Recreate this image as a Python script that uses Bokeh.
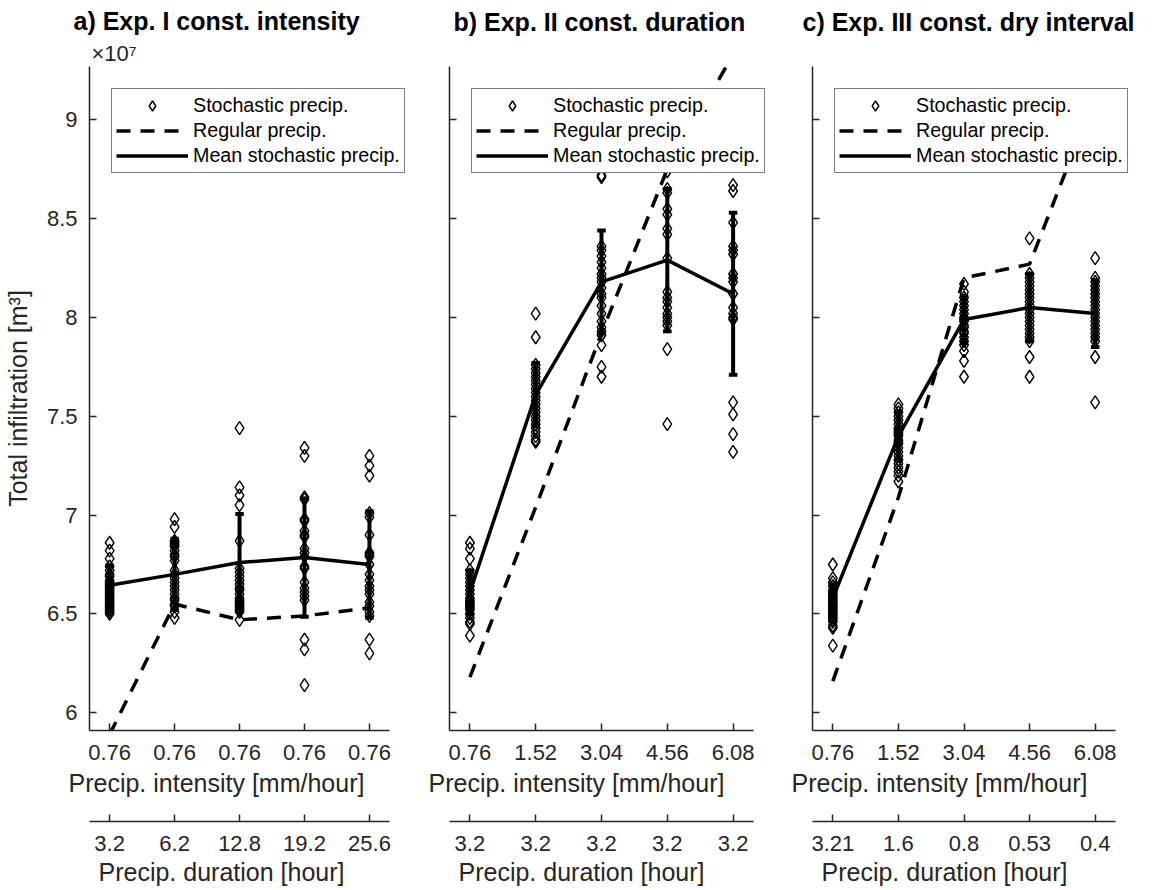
from bokeh.plotting import figure
from bokeh.layouts import row
from bokeh.models import (LinearAxis, FixedTicker, NumeralTickFormatter, Range1d,
                          Legend, LegendItem, Title, CustomJSTickFormatter)
from bokeh.embed import file_html
from bokeh.resources import INLINE

# ---------------- data (values in units of 1e7 m^3) ----------------
positions = [1, 2, 3, 4, 5]
titles = ["a) Exp. I const. intensity", "b) Exp. II const. duration", "c) Exp. III const. dry interval"]
xlabel_intensity = "Precip. intensity [mm/hour]"
xlabel_duration = "Precip. duration [hour]"
ylabel = "Total infiltration [m³]"
y_multiplier = "×10⁷"

intensity_a = ["0.76", "0.76", "0.76", "0.76", "0.76"]
duration_a = ["3.2", "6.2", "12.8", "19.2", "25.6"]
intensity_b = ["0.76", "1.52", "3.04", "4.56", "6.08"]
duration_b = ["3.2", "3.2", "3.2", "3.2", "3.2"]
intensity_c = ["0.76", "1.52", "3.04", "4.56", "6.08"]
duration_c = ["3.21", "1.6", "0.8", "0.53", "0.4"]

stoch_a = [
    [6.86, 6.82, 6.78, 6.74, 6.72, 6.70, 6.69, 6.67, 6.66, 6.65, 6.64, 6.63, 6.62, 6.61, 6.60, 6.59, 6.58, 6.57, 6.56, 6.55, 6.54, 6.53, 6.52, 6.51, 6.50],
    [6.98, 6.94, 6.87, 6.86, 6.85, 6.84, 6.82, 6.80, 6.79, 6.77, 6.72, 6.70, 6.68, 6.66, 6.64, 6.62, 6.60, 6.58, 6.57, 6.55, 6.54, 6.51, 6.48],
    [7.44, 7.14, 7.10, 7.05, 6.87, 6.73, 6.71, 6.69, 6.67, 6.65, 6.63, 6.62, 6.60, 6.58, 6.57, 6.56, 6.55, 6.54, 6.53, 6.52, 6.51, 6.47],
    [7.34, 7.30, 7.09, 7.08, 6.98, 6.97, 6.92, 6.90, 6.89, 6.83, 6.81, 6.79, 6.74, 6.73, 6.66, 6.63, 6.61, 6.59, 6.57, 6.37, 6.32, 6.14],
    [7.30, 7.25, 7.20, 7.01, 6.99, 6.90, 6.81, 6.80, 6.79, 6.75, 6.70, 6.67, 6.64, 6.62, 6.60, 6.56, 6.54, 6.51, 6.49, 6.37, 6.30],
]
stoch_b = [
    [6.86, 6.83, 6.78, 6.72, 6.70, 6.68, 6.66, 6.64, 6.62, 6.60, 6.58, 6.57, 6.56, 6.55, 6.54, 6.53, 6.52, 6.50, 6.48, 6.46, 6.45, 6.39],
    [8.02, 7.90, 7.76, 7.74, 7.72, 7.70, 7.68, 7.66, 7.64, 7.62, 7.60, 7.58, 7.56, 7.54, 7.52, 7.50, 7.48, 7.46, 7.44, 7.42, 7.40, 7.38, 7.37],
    [8.72, 8.71, 8.36, 8.34, 8.31, 8.28, 8.25, 8.22, 8.20, 8.18, 8.15, 8.12, 8.10, 8.06, 8.02, 7.98, 7.95, 7.93, 7.91, 7.86, 7.75, 7.70],
    [8.74, 8.65, 8.63, 8.55, 8.52, 8.45, 8.42, 8.30, 8.13, 8.10, 8.08, 8.05, 8.02, 8.00, 7.98, 7.96, 7.84, 7.46],
    [8.67, 8.64, 8.48, 8.36, 8.34, 8.32, 8.22, 8.20, 8.18, 8.12, 8.05, 8.02, 8.00, 7.99, 7.57, 7.51, 7.41, 7.32],
]
stoch_c = [
    [6.75, 6.68, 6.66, 6.64, 6.62, 6.61, 6.60, 6.59, 6.58, 6.57, 6.56, 6.55, 6.54, 6.53, 6.52, 6.51, 6.50, 6.49, 6.48, 6.47, 6.46, 6.44, 6.43, 6.34],
    [7.56, 7.54, 7.52, 7.50, 7.48, 7.46, 7.44, 7.43, 7.42, 7.41, 7.40, 7.38, 7.37, 7.36, 7.34, 7.32, 7.30, 7.28, 7.26, 7.24, 7.22, 7.20, 7.17],
    [8.17, 8.13, 8.10, 8.08, 8.06, 8.04, 8.02, 8.00, 7.99, 7.98, 7.96, 7.95, 7.93, 7.92, 7.90, 7.88, 7.86, 7.83, 7.78, 7.70],
    [8.40, 8.22, 8.20, 8.18, 8.16, 8.14, 8.12, 8.10, 8.08, 8.06, 8.04, 8.02, 8.00, 7.98, 7.96, 7.94, 7.92, 7.90, 7.88, 7.80, 7.70],
    [8.30, 8.20, 8.18, 8.16, 8.14, 8.12, 8.10, 8.08, 8.06, 8.04, 8.02, 8.00, 7.98, 7.96, 7.94, 7.92, 7.90, 7.88, 7.80, 7.57],
]

mean_a = [6.645, 6.70, 6.76, 6.785, 6.75]
std_a = [0.10, 0.18, 0.245, 0.30, 0.27]
regular_a = [5.89, 6.55, 6.47, 6.49, 6.53]

mean_b = [6.61, 7.61, 8.18, 8.29, 8.12]
std_b = [0.11, 0.16, 0.26, 0.36, 0.41]
regular_b = [6.18, 7.04, 7.92, 8.75, 9.33]

mean_c = [6.58, 7.40, 7.99, 8.05, 8.02]
std_c = [0.07, 0.12, 0.12, 0.17, 0.17]
regular_c = [6.16, 7.09, 8.20, 8.27, 9.12]

y_ticks = [6, 6.5, 7, 7.5, 8, 8.5, 9]

FONT = "Liberation Sans"
AX = "#262626"
TICK_FS = "22px"
LABEL_FS = "25px"
X0, X1 = 0.69, 5.31   # visible data span of the x axes
Y0, Y1 = 5.91, 9.27


def style_axis(ax):
    ax.axis_line_color = AX
    ax.axis_line_width = 1.5
    ax.major_tick_line_color = AX
    ax.major_tick_line_width = 1.5
    ax.major_tick_in = 7
    ax.major_tick_out = 0
    ax.minor_tick_line_color = None
    ax.major_label_text_font = FONT
    ax.major_label_text_font_size = TICK_FS
    ax.major_label_text_color = AX
    ax.axis_label_text_font = FONT
    ax.axis_label_text_font_size = LABEL_FS
    ax.axis_label_text_font_style = "normal"
    ax.axis_label_text_color = AX


def side_text(text, offset, standoff, size=LABEL_FS, bold=False):
    return Title(text=text, align="left", offset=offset, standoff=standoff,
                 text_font=FONT, text_font_size=size,
                 text_font_style="bold" if bold else "normal",
                 text_color="black" if bold else AX)


def spacer(extent):
    # invisible axis used only to reserve room in a side panel
    return LinearAxis(ticker=FixedTicker(ticks=[3]), major_label_overrides={3: ""},
                      axis_line_color=None, major_tick_line_color=None,
                      minor_tick_line_color=None, major_tick_out=extent, major_tick_in=0,
                      major_label_standoff=0, major_label_text_font_size="1px")


def make_panel(title, stoch, mean, std, regular, intensity, duration, width,
               border_left, border_right, data_px, title_offset, first):
    frame_px = width - border_left - border_right
    x_end = X0 + (X1 - X0) * frame_px / data_px
    p = figure(width=width, height=890, output_backend="svg", toolbar_location=None,
               x_range=Range1d(X0, x_end), y_range=Range1d(Y0, Y1), title=None,
               min_border_left=border_left, min_border_right=border_right,
               min_border_top=66, min_border_bottom=160,
               x_axis_location=None, y_axis_location=None)
    p.grid.visible = False
    p.outline_line_color = None
    p.background_fill_color = "white"
    p.border_fill_color = "white"

    # above: multiplier / spacer, then panel title
    if first:
        p.add_layout(side_text(y_multiplier, 2, 2, size="22px"), "above")
    else:
        p.add_layout(spacer(28), "above")
    p.add_layout(side_text(title, title_offset, 5, size="25px", bold=True), "above")

    # y axis
    yax = LinearAxis(ticker=FixedTicker(ticks=y_ticks))
    style_axis(yax)
    if first:
        yax.formatter = NumeralTickFormatter(format="0.[0]")
        yax.axis_label = ylabel
        yax.major_label_standoff = 12
        yax.axis_label_standoff = 12
    else:
        yax.formatter = CustomJSTickFormatter(code="return ''")
        yax.major_label_standoff = 0
    p.add_layout(yax, "left")

    # x axis 1: intensity
    x1 = LinearAxis(ticker=FixedTicker(ticks=positions), bounds=(X0, X1),
                    major_label_overrides={pos: lab for pos, lab in zip(positions, intensity)})
    style_axis(x1)
    x1.major_label_standoff = 14
    p.add_layout(x1, "below")
    p.add_layout(side_text(xlabel_intensity, -21, 9), "below")
    p.add_layout(spacer(20), "below")

    # x axis 2: duration
    x2 = LinearAxis(ticker=FixedTicker(ticks=positions), bounds=(X0, X1),
                    major_label_overrides={pos: lab for pos, lab in zip(positions, duration)})
    style_axis(x2)
    x2.major_label_standoff = 14
    p.add_layout(x2, "below")
    p.add_layout(side_text(xlabel_duration, 9, 4), "below")

    # data
    xs, ys = [], []
    for pos, col in zip(positions, stoch):
        xs += [pos] * len(col)
        ys += col
    r_sc = p.scatter(xs, ys, marker="diamond", size=13, line_color="black",
                     fill_color=None, line_width=1.4)
    r_reg = p.line(positions, regular, line_color="black", line_width=3.5, line_dash="14 10")
    r_mean = p.line(positions, mean, line_color="black", line_width=3.5)
    lo = [m - s for m, s in zip(mean, std)]
    hi = [m + s for m, s in zip(mean, std)]
    p.segment(positions, lo, positions, hi, line_color="black", line_width=4)
    cap_l = [x - 0.065 for x in positions]
    cap_r = [x + 0.065 for x in positions]
    p.segment(cap_l, lo, cap_r, lo, line_color="black", line_width=4)
    p.segment(cap_l, hi, cap_r, hi, line_color="black", line_width=4)

    legend = Legend(items=[LegendItem(label="Stochastic precip.", renderers=[r_sc]),
                           LegendItem(label="Regular precip.", renderers=[r_reg]),
                           LegendItem(label="Mean stochastic precip.", renderers=[r_mean])],
                    location="top_left", margin=22, padding=4, spacing=0,
                    glyph_width=72, glyph_height=25, label_height=25, label_standoff=5,
                    border_line_color="black", border_line_width=1.5,
                    background_fill_color="white", background_fill_alpha=1.0,
                    label_text_font=FONT, label_text_font_size="19.7px",
                    label_text_color="black")
    p.add_layout(legend)
    return p


pa = make_panel(titles[0], stoch_a, mean_a, std_a, regular_a, intensity_a, duration_a,
                420, 88, 0, 301, -16, True)
pb = make_panel(titles[1], stoch_b, mean_b, std_b, regular_b, intensity_b, duration_b,
                365, 29, 0, 304, 4, False)
pc = make_panel(titles[2], stoch_c, mean_c, std_c, regular_c, intensity_c, duration_c,
                381, 27, 6, 303, -10, False)

layout = row(pa, pb, pc, spacing=0)
open("out.html", "w").write(file_html(layout, INLINE))
